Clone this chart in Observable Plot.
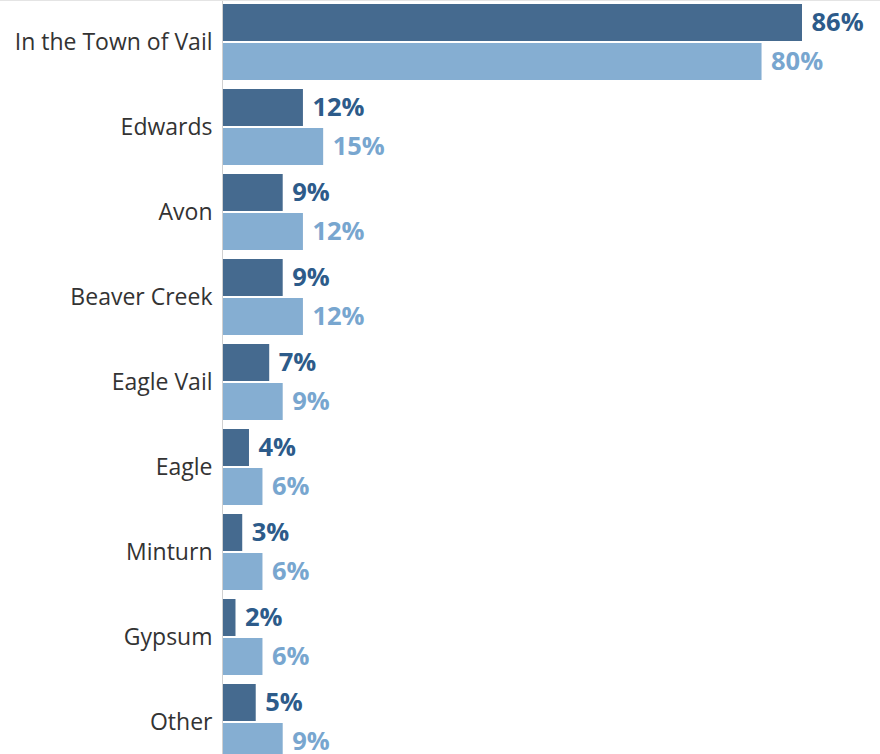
<!DOCTYPE html>
<html><head><meta charset="utf-8">
<script src="https://cdn.jsdelivr.net/npm/d3@7"></script>
<script src="https://cdn.jsdelivr.net/npm/@observablehq/plot@0.6"></script>
<style>
html,body{margin:0;padding:0;background:#fff;overflow:hidden}
#chart svg{display:block;border-top:1px solid #e4e4e4;overflow:hidden}
</style>
</head><body><div id="chart"></div>
<script>
const categories = ["In the Town of Vail","Edwards","Avon","Beaver Creek","Eagle Vail","Eagle","Minturn","Gypsum","Other"];
const currentValues = [86,12,9,9,7,4,3,2,5];
const priorValues = [80,15,12,12,9,6,6,6,9];

const current = categories.map((c,i)=>({category:c, value:currentValues[i]}));
const prior = categories.map((c,i)=>({category:c, value:priorValues[i]}));

const darkBar = "#456a8f", lightBar = "#85aed2";
const darkText = "#2d5b8a", lightText = "#78a6cf";

const chart = Plot.plot({
  width: 880,
  height: 753,
  marginTop: 0,
  marginBottom: 0,
  marginLeft: 222,
  marginRight: 78,
  style: {fontFamily: "'Open Sans', sans-serif", background: "#fff"},
  x: {domain: [0, 86], axis: null},
  y: {domain: categories, range: [0, 762], paddingInner: 0.106, paddingOuter: 0.029, label: null},
  marks: [
    Plot.axisY({tickSize: 0, tickPadding: 10, fontSize: 23, color: "#333", label: null}),
    Plot.barX(current, {x: "value", y: "category", fill: darkBar, insetBottom: 39}),
    Plot.barX(prior, {x: "value", y: "category", fill: lightBar, insetTop: 39}),
    Plot.text(current, {x: "value", y: "category", text: d => d.value + "%", textAnchor: "start", dx: 9, dy: -19.5, fill: darkText, fontSize: 25.5, fontWeight: "bold"}),
    Plot.text(prior, {x: "value", y: "category", text: d => d.value + "%", textAnchor: "start", dx: 9, dy: 19.5, fill: lightText, fontSize: 25.5, fontWeight: "bold"}),
    Plot.ruleX([0], {stroke: "#d0d0d0"})
  ]
});
document.getElementById("chart").appendChild(chart);
</script>
</body></html>
